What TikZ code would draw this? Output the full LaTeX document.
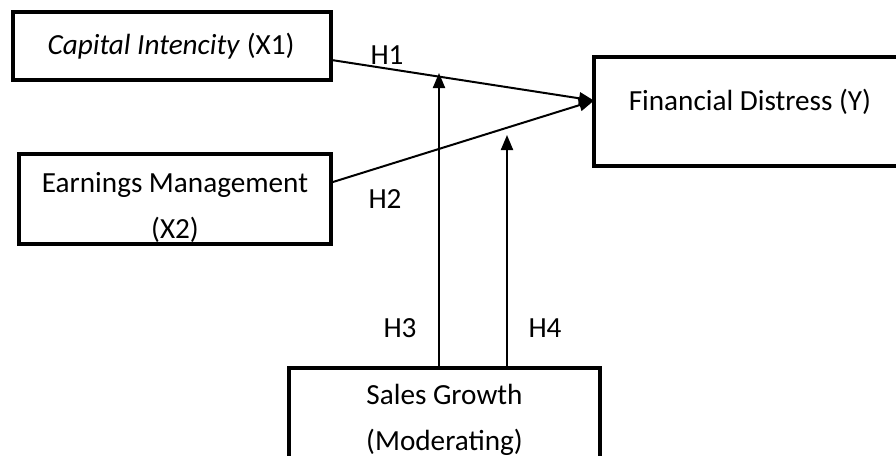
\documentclass[tikz,border=0pt]{standalone}
\usepackage{fontspec}
\setmainfont{Carlito}
\usetikzlibrary{arrows.meta}
\begin{document}
\begin{tikzpicture}[x=0.5pt, y=-0.5pt, line width=1pt,
	box/.style={draw, rectangle, line width=2pt, inner sep=0pt, outer sep=0pt},
	txt/.style={font=\fontsize{14.6}{23}\selectfont, align=center, inner sep=0pt},
	arr/.style={-{Triangle[length=7.5pt,width=6pt]}}]
			
			\useasboundingbox (0,0) rectangle (896,456);
			\clip (0,0) rectangle (896,456);
			
			%Capital intencity block
			\node (capital) at (172,46) [box, minimum width=159pt, minimum height=34pt]{};
			\node (capitalText) at (171,46) [txt]{\textit{Capital Intencity} (X1)};
			
			%Earnings management block
			\node (earnings) at (175,199) [box, minimum width=156pt, minimum height=45pt]{};
			\begin{scope}
			\clip (earnings.south west) rectangle (earnings.north east);
			\node (earningsText) at (175,207) [txt]{Earnings Management\\ (X2)};
			\end{scope}
			
			%Financial distress block
			\node (distress) at (750,111.5) [box, minimum width=156pt, minimum height=54.5pt]{};
			\node (distressText) at (750,102) [txt]{Financial Distress (Y)};
			
			%Sales growth block
			\node (sales) at (444.5,420) [box, minimum width=155.5pt, minimum height=52pt]{};
			\node (salesText) at (444.5,420) [txt]{Sales Growth\\ (Moderating)};
			
			%Links among blocks
			\draw[arr] (capital.-5.75) -- (distress.176.9);
			\draw[arr] (earnings.6.2) -- (distress.176.9);
			
			%Moderating links
			\coordinate (h3end) at (439,73);
			\coordinate (h4end) at (507,135);
			\draw[arr] (sales.north -| h3end) -- (h3end);
			\draw[arr] (sales.north -| h4end) -- (h4end);
			
			%Hypothesis labels
			\node (h1) at (387,55) [txt]{H1};
			\node (h2) at (385,199) [txt]{H2};
			\node (h3) at (400,328) [txt]{H3};
			\node (h4) at (545,328) [txt]{H4};
			
\end{tikzpicture}
\end{document}
